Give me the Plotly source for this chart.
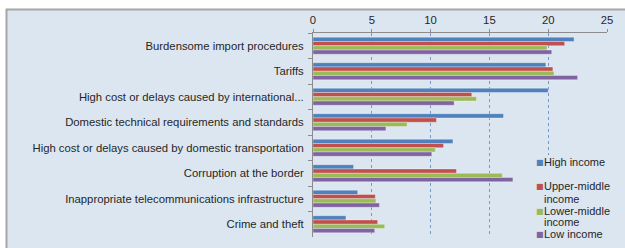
import plotly.graph_objects as go

categories = [
    "Burdensome import procedures",
    "Tariffs",
    "High cost or delays caused by international...",
    "Domestic technical requirements and standards",
    "High cost or delays caused by domestic transportation",
    "Corruption at the border",
    "Inappropriate telecommunications infrastructure",
    "Crime and theft",
]
series_names = ["High income", "Upper-middle income", "Lower-middle income", "Low income"]
high_income = [22.2, 19.8, 20.0, 16.2, 11.9, 3.45, 3.8, 2.8]
upper_middle = [21.4, 20.4, 13.5, 10.5, 11.1, 12.2, 5.3, 5.5]
lower_middle = [19.9, 20.5, 13.9, 8.0, 10.4, 16.1, 5.35, 6.1]
low_income = [20.3, 22.5, 12.0, 6.2, 10.1, 17.0, 5.65, 5.25]
x_ticks = [0, 5, 10, 15, 20, 25]

colors = ["#4F81BD", "#C0504D", "#9BBB59", "#8064A2"]
values = [high_income, upper_middle, lower_middle, low_income]

W, H = 625, 248
L, R, T, B = 313, 18, 33, 11
pw, ph = W - L - R, H - T - B


def px2x(p):
    return (p - L) / pw


def py2y(p):
    return (T + ph - p) / ph


fig = go.Figure()
for name, vals, col in zip(series_names, values, colors):
    fig.add_trace(go.Bar(
        y=categories, x=vals, orientation="h", name=name,
        marker=dict(color=col, line=dict(color="rgba(255,255,255,0.55)", width=0.6)),
        showlegend=False,
    ))

font = dict(family="Liberation Sans, Arial, sans-serif", size=11.3, color="#262626")
lfont = dict(family="Liberation Sans, Arial, sans-serif", size=11, color="#262626")

# legend (Excel style: small square + wrapped text), drawn as text annotations
legend_lines = [  # (series index, line text, first line?, y pixel)
    (0, "High income", True, 162.3),
    (1, "Upper-middle", True, 185.5),
    (1, "income", False, 199),
    (2, "Lower-middle", True, 210.5),
    (2, "income", False, 222),
    (3, "Low income", True, 234),
]
annotations = []
for idx, txt, first, ypx in legend_lines:
    if first:
        annotations.append(dict(
            xref="paper", yref="paper", x=px2x(535), y=py2y(ypx + 0.5),
            xanchor="left", yanchor="middle", showarrow=False, borderpad=0,
            text=f"<span style='color:{colors[idx]}'>■</span>",
            font=dict(family="DejaVu Sans", size=8, color=colors[idx]),
        ))
    annotations.append(dict(
        xref="paper", yref="paper", x=px2x(543), y=py2y(ypx),
        xanchor="left", yanchor="middle", text=txt, showarrow=False,
        font=lfont, borderpad=0,
    ))

fig.update_layout(
    width=W, height=H,
    margin=dict(l=L, r=R, t=T, b=B, pad=0, autoexpand=False),
    paper_bgcolor="white",
    plot_bgcolor="rgba(0,0,0,0)",
    barmode="group",
    bargap=0.33,
    bargroupgap=0.0,
    font=font,
    showlegend=False,
    shapes=[
        dict(type="rect", xref="paper", yref="paper",
             x0=px2x(6.5), x1=1.2, y0=-0.2, y1=py2y(9.5),
             fillcolor="#DCE6F1", line=dict(color="#A6A6A6", width=2), layer="below"),
        dict(type="rect", xref="paper", yref="paper",
             x0=px2x(531), x1=px2x(620), y0=py2y(242), y1=py2y(155),
             fillcolor="#DCE6F1", line=dict(width=0), layer="above"),
    ],
    annotations=annotations,
    xaxis=dict(
        side="top", range=[0, 25], tickvals=x_ticks, ticktext=[str(v) for v in x_ticks],
        showgrid=True, gridcolor="#6E9BD6", griddash="dot", gridwidth=1,
        showline=True, linecolor="#8C8C8C", linewidth=1,
        ticks="outside", ticklen=3, tickcolor="#8C8C8C", ticklabelstandoff=0,
        zeroline=False, fixedrange=True, tickfont=font, automargin=False,
    ),
    yaxis=dict(
        type="category", autorange="reversed",
        showline=True, linecolor="#8C8C8C", linewidth=1,
        ticks="outside", ticklen=4, tickcolor="#8C8C8C", tickson="boundaries",
        ticklabelstandoff=6, automargin=False, fixedrange=True,
        showgrid=False, zeroline=False, tickfont=font,
    ),
)

fig.write_html("out.html", config={"displayModeBar": False},
               post_script="document.body.style.margin='0';")
